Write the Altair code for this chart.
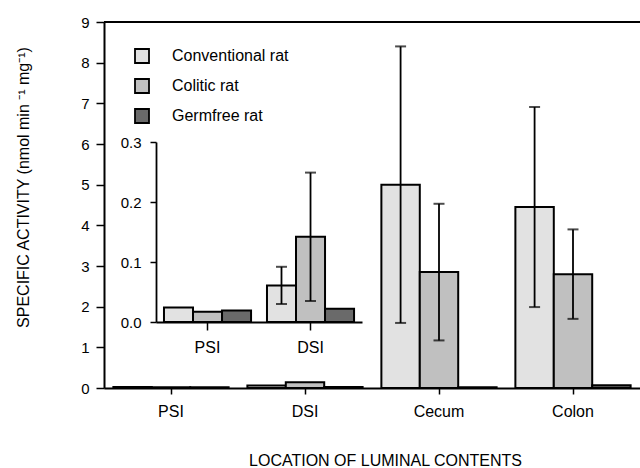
import altair as alt
import pandas as pd

# ---------------- data ----------------
locations = ["PSI", "DSI", "Cecum", "Colon"]
inset_locations = ["PSI", "DSI"]
groups = ["Conventional rat", "Colitic rat", "Germfree rat"]
group_fills = ["#e2e2e2", "#c0c0c0", "#6a6a6a"]

conventional_mean = [0.024, 0.061, 5.00, 4.45]
conventional_sd = [None, 0.031, 3.40, 2.46]
colitic_mean = [0.017, 0.142, 2.85, 2.80]
colitic_sd = [None, 0.107, 1.68, 1.10]
germfree_mean = [0.019, 0.022, 0.02, 0.07]
germfree_sd = [None, None, None, None]

main_ticks = [0, 1, 2, 3, 4, 5, 6, 7, 8, 9]
inset_ticks = [0.0, 0.1, 0.2, 0.3]

rows = []
for g, means, sds in zip(groups,
                         [conventional_mean, colitic_mean, germfree_mean],
                         [conventional_sd, colitic_sd, germfree_sd]):
    for loc, m, s in zip(locations, means, sds):
        rows.append({
            "location": loc, "group": g, "mean": m,
            "lo": (m - s) if s is not None else None,
            "hi": (m + s) if s is not None else None,
        })
df = pd.DataFrame(rows)
err_df = df.dropna(subset=["lo"])
main_err = err_df[err_df["location"].isin(["Cecum", "Colon"])]
inset_df = df[df["location"].isin(inset_locations)]
inset_err = err_df[err_df["location"].isin(inset_locations)]

FONT = "Liberation Sans"
BLACK = "black"

fill = alt.Fill("group:N", sort=groups,
                scale=alt.Scale(domain=groups, range=group_fills),
                legend=alt.Legend(title=None, orient="none", legendX=30, legendY=26,
                                  symbolType="square", symbolSize=196,
                                  symbolStrokeColor=BLACK, symbolStrokeWidth=1.8,
                                  labelFontSize=16, labelOffset=22, rowPadding=8,
                                  labelFont=FONT, labelColor=BLACK, padding=0))

# ---------------- main chart ----------------
main_x_scale = alt.Scale(domain=locations, paddingInner=0.14, paddingOuter=0.07)
main_x_axis = alt.Axis(title="LOCATION OF LUMINAL CONTENTS", labelAngle=0, tickSize=6,
                       labelPadding=9, labelFontSize=16, titleFontSize=16,
                       titleFontWeight="normal", titleX=281, titleY=77,
                       titleBaseline="alphabetic", domainWidth=1.8, tickWidth=1.5)
main_xo = alt.XOffset("group:N", sort=groups,
                      scale=alt.Scale(domain=groups, range=[0, 115.24],
                                      paddingInner=0, paddingOuter=0))
main_y_scale = alt.Scale(domain=[0, 9], nice=False)
main_y_axis = alt.Axis(title="SPECIFIC ACTIVITY (nmol min \u207b\u00b9 mg\u207b\u00b9)",
                       values=main_ticks, tickSize=8, labelPadding=7, labelFontSize=15,
                       titleFontSize=16, titleFontWeight="normal", titleX=-76, titleY=165,
                       titleBaseline="alphabetic", grid=False, domainWidth=2, tickWidth=1.5)


def mx():
    return alt.X("location:N", sort=locations, scale=main_x_scale, axis=main_x_axis)


def my(field):
    return alt.Y(field, scale=main_y_scale, axis=main_y_axis)


main_bars = alt.Chart(df).mark_bar(stroke=BLACK, strokeWidth=2).encode(
    x=mx(), xOffset=main_xo, y=my("mean:Q"), fill=fill)

main_rule = alt.Chart(main_err).mark_rule(color=BLACK, strokeWidth=1.8).encode(
    x=mx(), xOffset=main_xo, y=my("lo:Q"), y2="hi:Q")

main_caps = alt.Chart(main_err).transform_fold(["lo", "hi"], as_=["end", "value"]).mark_tick(
    orient="horizontal", size=11, thickness=2, color=BLACK).encode(
    x=mx(), xOffset=main_xo, y=my("value:Q"))

top_line = alt.Chart(df).mark_rule(color=BLACK, strokeWidth=1.5).encode(
    x=alt.value(0), x2=alt.value(536), y=alt.value(0))

main = alt.layer(main_bars, main_rule, main_caps, top_line)

# ---------------- inset chart ----------------
inset_x_scale = alt.Scale(domain=inset_locations, range=[52, 258],
                          paddingInner=0.155, paddingOuter=0.0775)
inset_x_axis = alt.Axis(title=None, orient="bottom", offset=-66, labelAngle=0, tickSize=8,
                        labelPadding=9, labelFontSize=16, domainWidth=1.8, tickWidth=1.5)
inset_xo = alt.XOffset("group:N", sort=groups,
                       scale=alt.Scale(domain=groups, range=[0, 87.07],
                                       paddingInner=0, paddingOuter=0))
inset_y_scale = alt.Scale(domain=[0, 0.3], range=[300, 120], nice=False)
inset_y_axis = alt.Axis(title=None, orient="left", offset=-52, values=inset_ticks,
                        format=".1f", tickSize=6, labelPadding=9, labelFontSize=15,
                        grid=False, domainWidth=1.8, tickWidth=1.5)


def ix():
    return alt.X("location:N", sort=inset_locations, scale=inset_x_scale, axis=inset_x_axis)


def iy(field):
    return alt.Y(field, scale=inset_y_scale, axis=inset_y_axis)


inset_bars = alt.Chart(inset_df).mark_bar(stroke=BLACK, strokeWidth=2).encode(
    x=ix(), xOffset=inset_xo, y=iy("mean:Q"), fill=fill)

inset_rule = alt.Chart(inset_err).mark_rule(color=BLACK, strokeWidth=1.8).encode(
    x=ix(), xOffset=inset_xo, y=iy("lo:Q"), y2="hi:Q")

inset_caps = alt.Chart(inset_err).transform_fold(["lo", "hi"], as_=["end", "value"]).mark_tick(
    orient="horizontal", size=11, thickness=2, color=BLACK).encode(
    x=ix(), xOffset=inset_xo, y=iy("value:Q"))

inset = alt.layer(inset_bars, inset_rule, inset_caps)

chart = alt.layer(main, inset).resolve_scale(
    x="independent", y="independent", xOffset="independent", fill="shared"
).resolve_axis(x="independent", y="independent").properties(
    width=536, height=366,
    padding={"left": 104, "top": 22, "right": 0, "bottom": 80},
    autosize=alt.AutoSizeParams(type="none"),
).configure_view(stroke=None).configure(
    font=FONT
).configure_axis(
    labelFont=FONT, titleFont=FONT, labelColor=BLACK, titleColor=BLACK,
    domainColor=BLACK, tickColor=BLACK, grid=False
)

chart.save("out.html", embed_options={"renderer": "svg", "actions": False})
